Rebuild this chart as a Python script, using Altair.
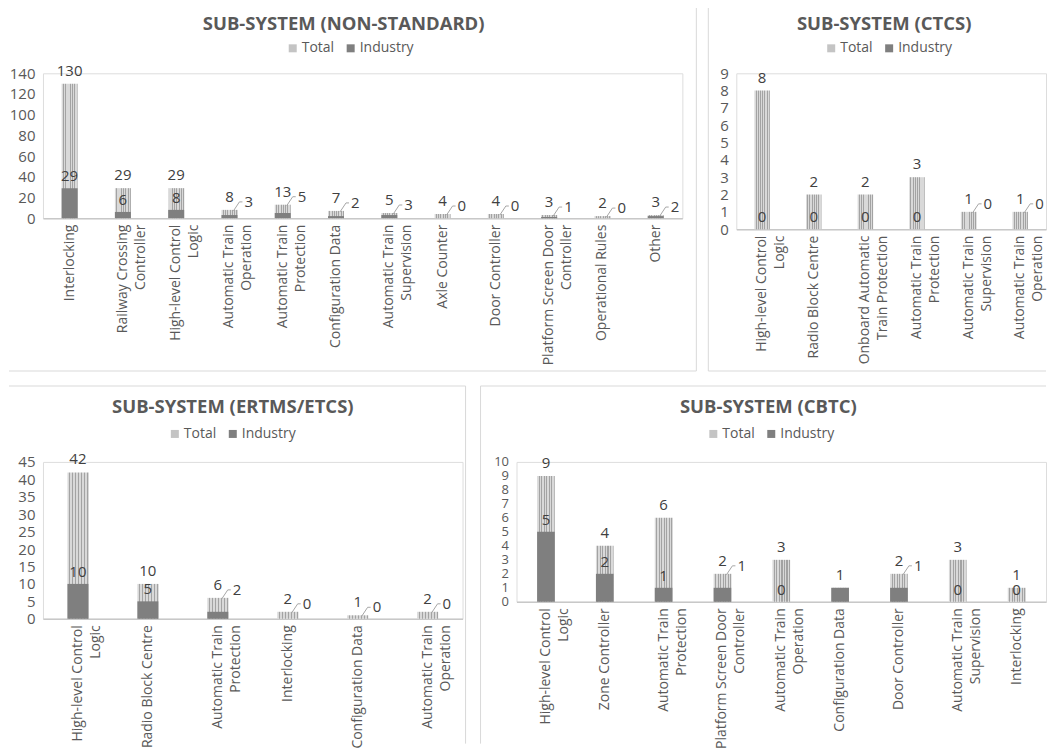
import textwrap
import altair as alt
import pandas as pd

# ---------------- data ----------------
ns_cats = ["Interlocking", "Railway Crossing Controller", "High-level Control Logic",
           "Automatic Train Operation", "Automatic Train Protection", "Configuration Data",
           "Automatic Train Supervision", "Axle Counter", "Door Controller",
           "Platform Screen Door Controller", "Operational Rules", "Other"]
ns_total = [130, 29, 29, 8, 13, 7, 5, 4, 4, 3, 2, 3]
ns_industry = [29, 6, 8, 3, 5, 2, 3, 0, 0, 1, 0, 2]
ns_place = ["in", "in", "in", "side", "side", "side", "side", "side", "side", "side", "side", "side"]

ctcs_cats = ["High-level Control Logic", "Radio Block Centre", "Onboard Automatic Train Protection",
             "Automatic Train Protection", "Automatic Train Supervision", "Automatic Train Operation"]
ctcs_total = [8, 2, 2, 3, 1, 1]
ctcs_industry = [0, 0, 0, 0, 0, 0]
ctcs_place = ["in", "in", "in", "in", "side", "side"]

ertms_cats = ["High-level Control Logic", "Radio Block Centre", "Automatic Train Protection",
              "Interlocking", "Configuration Data", "Automatic Train Operation"]
ertms_total = [42, 10, 6, 2, 1, 2]
ertms_industry = [10, 5, 2, 0, 0, 0]
ertms_place = ["in", "in", "side", "side", "side", "side"]

cbtc_cats = ["High-level Control Logic", "Zone Controller", "Automatic Train Protection",
             "Platform Screen Door Controller", "Automatic Train Operation", "Configuration Data",
             "Door Controller", "Automatic Train Supervision", "Interlocking"]
cbtc_total = [9, 4, 6, 2, 3, 1, 2, 3, 1]
cbtc_industry = [5, 2, 1, 1, 0, 1, 1, 0, 0]
cbtc_place = ["in", "in", "in", "side", "in", "none", "side", "in", "in"]

series_names = ["Total", "Industry"]

# ---------------- style ----------------
FONT = "Open Sans"
TXT = "#595959"
LBL = "#404040"
BORDER = "#d9d9d9"
IND = "#7f7f7f"
TOT_LEG = "#c4c4c4"
LEAD = "#a6a6a6"
DUMMY = pd.DataFrame({"k": [0]})


def stripes(n=7, light="#d9d9d9", dark="#a3a3a3", frac=0.42):
    stops = []
    for k in range(n):
        a = round(k / n, 4)
        b = round((k + 1 - frac) / n, 4)
        c = round((k + 1) / n, 4)
        stops += [{"offset": a, "color": light}, {"offset": b, "color": light},
                  {"offset": b, "color": dark}, {"offset": c, "color": dark}]
    return {"gradient": "linear", "x1": 0, "y1": 0, "x2": 1, "y2": 0, "stops": stops}


def wrap(s):
    return "|".join(textwrap.wrap(s, 20, break_on_hyphens=False))


def rule_px(x1, x2, y1, y2):
    return alt.Chart(DUMMY).mark_rule(color=BORDER, strokeWidth=1).encode(
        x=alt.value(x1), x2=alt.value(x2), y=alt.value(y1), y2=alt.value(y2))


def panel(title, cats, total, industry, place, w, h, ymax, ystep,
          tdx, tdy, lx, ly, borders, yfont=15):
    df = pd.DataFrame({"cat": [wrap(c) for c in cats], "total": total,
                       "industry": industry, "place": place})
    order = df["cat"].tolist()
    xax = alt.Axis(title=None, labelAngle=-90, labelAlign="right", labelBaseline="middle",
                   labelExpr="split(datum.label, '|')", labelFont=FONT, labelFontSize=14,
                   labelColor=TXT, labelLineHeight=18, labelPadding=6, ticks=False,
                   domainColor="#c8c8c8", domainWidth=1.5, grid=False, labelLimit=300)
    x = alt.X("cat:N", sort=order, scale=alt.Scale(paddingInner=0.7, paddingOuter=0.35), axis=xax)
    yax = alt.Axis(title=None, values=list(range(0, ymax + 1, ystep)), grid=False, domain=False,
                   ticks=False, labelFont=FONT, labelFontSize=yfont, labelColor=TXT,
                   labelPadding=8, labelOverlap=False)
    ysc = alt.Scale(domain=[0, ymax], nice=False)

    def Y(f):
        return alt.Y(f + ":Q", scale=ysc, axis=yax)

    base = alt.Chart(df)
    tot = base.mark_bar(fill=stripes()).encode(x=x, y=Y("total"))
    ind = base.transform_calculate(series="'Industry'").mark_bar().encode(
        x=x, y=Y("industry"),
        color=alt.Color("series:N",
                        scale=alt.Scale(domain=series_names, range=[TOT_LEG, IND]),
                        legend=alt.Legend(title=None, orient="none", legendX=lx, legendY=ly,
                                          direction="horizontal", symbolType="square",
                                          symbolSize=64, symbolStrokeWidth=0,
                                          labelFont=FONT, labelFontSize=14, labelColor=TXT,
                                          columnPadding=9, labelOffset=2)))
    tfont = dict(font=FONT, fontSize=15, color=LBL, baseline="middle")
    tlab = base.mark_text(dy=-13, **tfont).encode(x=x, y=Y("total"), text="total:Q")
    ilab = base.transform_filter("datum.place == 'in'").mark_text(dy=-12, **tfont).encode(
        x=x, y=Y("industry"), text="industry:Q")
    side = base.transform_filter("datum.place == 'side'")
    slab = side.mark_text(align="left", dx=15, dy=-8, **tfont).encode(
        x=x, y=Y("total"), text="industry:Q")
    lead1 = side.mark_rule(color=LEAD, strokeWidth=1, xOffset=4, x2Offset=10,
                           yOffset=1, y2Offset=-8).encode(
        x=x, x2=alt.X2("cat"), y=Y("total"), y2=alt.Y2("total"))
    lead2 = side.mark_rule(color=LEAD, strokeWidth=1, xOffset=10, x2Offset=13,
                           yOffset=-8, y2Offset=-8).encode(
        x=x, x2=alt.X2("cat"), y=Y("total"), y2=alt.Y2("total"))
    layers = [tot, ind, tlab, ilab, slab, lead1, lead2] + [rule_px(*b) for b in borders]
    return alt.layer(*layers).properties(
        width=w, height=h,
        title=alt.TitleParams(title, font=FONT, fontSize=18.5, fontWeight="bold", color=TXT,
                              anchor="middle", frame="group", dx=tdx, dy=tdy, offset=4))


A = panel("SUB-SYSTEM (NON-STANDARD)", ns_cats, ns_total, ns_industry, ns_place,
          640, 145, 140, 20, -19, 31, 243, -32,
          [(654, 654, -66, 298), (-34, 654, 298, 298)])
B = panel("SUB-SYSTEM (CTCS)", ctcs_cats, ctcs_total, ctcs_industry, ctcs_place,
          310, 156, 9, 1, -7, 31, 88, -32,
          [(-28, -28, -66, 298), (-28, 310, 298, 298)])
C = panel("SUB-SYSTEM (ERTMS/ETCS)", ertms_cats, ertms_total, ertms_industry, ertms_place,
          420, 157, 45, 5, -20, 35, 125, -35,
          [(-34, 423, -76, -76), (423, 423, -76, 282)])
D = panel("SUB-SYSTEM (CBTC)", cbtc_cats, cbtc_total, cbtc_industry, cbtc_place,
          530, 140, 10, 1, -13, 35, 190, -35,
          [(-36, 530, -76, -76), (-36, -36, -76, 282)], yfont=13)

top = alt.hconcat(A, B, spacing=10, bounds="full").resolve_scale(
    color="independent").resolve_legend(color="independent")
bottom = alt.hconcat(C, D, spacing=13, bounds="full").resolve_scale(
    color="independent").resolve_legend(color="independent")

chart = alt.vconcat(top, bottom, spacing=13, bounds="full").resolve_scale(
    color="independent").resolve_legend(color="independent").properties(
    padding={"left": 0, "top": -2, "right": 0, "bottom": 0}
).configure_view(strokeWidth=0).configure(background="white")

chart.save("out.html", embed_options={"renderer": "svg", "actions": False})
